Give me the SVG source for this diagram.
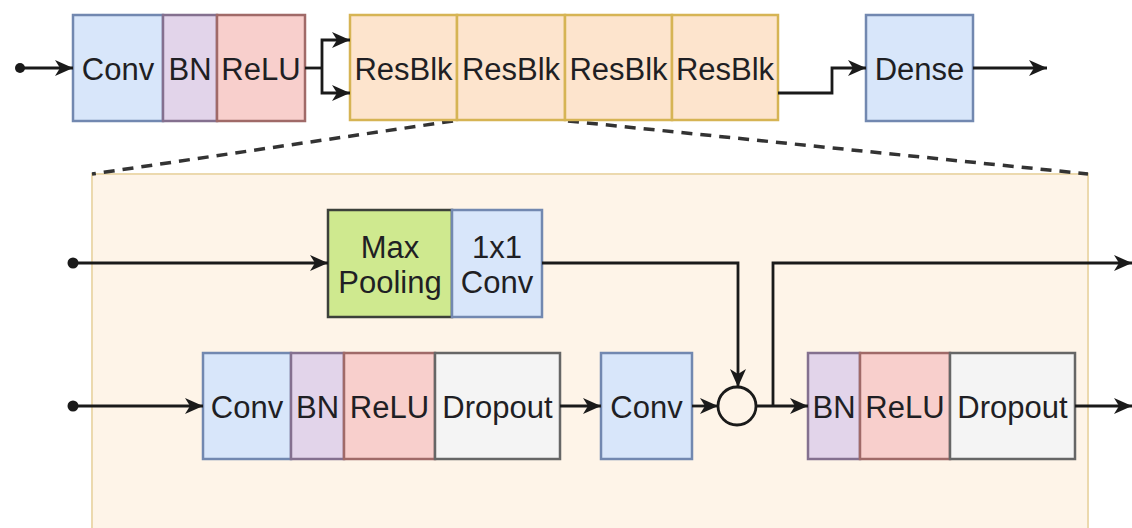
<svg xmlns="http://www.w3.org/2000/svg" width="1132" height="528" viewBox="0 0 1132 528">
  <style>
    text { font-family: "Liberation Sans", Arial, Helvetica, sans-serif; font-size: 31px; fill: #1f1f24; text-anchor: middle; }
    .blue { fill: #d8e6fa; stroke: #7288b0; stroke-width: 2.5; }
    .purple { fill: #e2d4ea; stroke: #84708f; stroke-width: 2.5; }
    .red { fill: #f8cfcc; stroke: #a06a68; stroke-width: 2.5; }
    .grey { fill: #f4f4f4; stroke: #666666; stroke-width: 2.5; }
    .orange { fill: #fde4cd; stroke: #d6b454; stroke-width: 2.5; }
    .green { fill: #cfe98f; stroke: #3c403a; stroke-width: 2.5; }
    .wire { fill: none; stroke: #1a1a1a; stroke-width: 2.8; }
    .arrow { fill: none; stroke: #1a1a1a; stroke-width: 2.8; marker-end: url(#head); }
    .zoom { fill: none; stroke: #333; stroke-width: 3.5; stroke-dasharray: 11 8; }
  </style>
  <defs>
    <marker id="head" markerUnits="userSpaceOnUse" markerWidth="19" markerHeight="16" refX="18" refY="8" orient="auto">
      <path d="M0,0 L18,8 L0,16 L5,8 Z" fill="#1a1a1a"/>
    </marker>
  </defs>

  <rect width="1132" height="528" fill="#ffffff"/>

  <!-- expanded residual block panel -->
  <g id="resblk-detail">
    <rect x="92" y="174" width="996" height="370" fill="#fef4e8" stroke="#ecd9ae" stroke-width="2"/>
  </g>

  <!-- zoom guides from the second residual block -->
  <g id="zoom-guides">
    <line class="zoom" x1="453" y1="121" x2="92" y2="174"/>
    <line class="zoom" x1="568" y1="121" x2="1088" y2="174"/>
  </g>

  <!-- top-level network -->
  <g id="stem">
    <rect class="blue" x="73" y="15" width="90" height="106"/>
    <text x="118" y="80">Conv</text>
    <rect class="purple" x="163" y="15" width="54" height="106"/>
    <text x="190" y="80">BN</text>
    <rect class="red" x="217" y="15" width="88" height="106"/>
    <text x="261" y="80">ReLU</text>
  </g>

  <g id="resblocks">
    <rect class="orange" x="350" y="15" width="107" height="105"/>
    <text x="403.5" y="80">ResBlk</text>
    <rect class="orange" x="457" y="15" width="108" height="105"/>
    <text x="511" y="80">ResBlk</text>
    <rect class="orange" x="565" y="15" width="107" height="105"/>
    <text x="618.5" y="80">ResBlk</text>
    <rect class="orange" x="672" y="15" width="106" height="105"/>
    <text x="725" y="80">ResBlk</text>
  </g>

  <g id="dense">
    <rect class="blue" x="866" y="15" width="107" height="106"/>
    <text x="919.5" y="80">Dense</text>
  </g>

  <!-- inside the residual block -->
  <g id="shortcut">
    <rect class="green" x="328" y="210" width="124" height="107"/>
    <text x="390" y="258">Max</text>
    <text x="390" y="293">Pooling</text>
    <rect class="blue" x="452" y="210" width="90" height="107"/>
    <text x="497" y="258">1x1</text>
    <text x="497" y="293">Conv</text>
  </g>

  <g id="main-path">
    <rect class="blue" x="203" y="353" width="88" height="106"/>
    <text x="247" y="418">Conv</text>
    <rect class="purple" x="291" y="353" width="53" height="106"/>
    <text x="317.5" y="418">BN</text>
    <rect class="red" x="344" y="353" width="91" height="106"/>
    <text x="389.5" y="418">ReLU</text>
    <rect class="grey" x="435" y="353" width="125" height="106"/>
    <text x="497.5" y="418">Dropout</text>
  </g>

  <g id="second-conv">
    <rect class="blue" x="601" y="353" width="91" height="106"/>
    <text x="646.5" y="418">Conv</text>
  </g>

  <g id="sum">
    <circle cx="737" cy="406" r="19" fill="#fef4e8" stroke="#1a1a1a" stroke-width="2.8"/>
  </g>

  <g id="post-path">
    <rect class="purple" x="808" y="353" width="52" height="106"/>
    <text x="834" y="418">BN</text>
    <rect class="red" x="860" y="353" width="90" height="106"/>
    <text x="905" y="418">ReLU</text>
    <rect class="grey" x="950" y="353" width="125" height="106"/>
    <text x="1012.5" y="418">Dropout</text>
  </g>

  <!-- connectors -->
  <g id="connectors">
    <circle cx="20" cy="68" r="5" fill="#1a1a1a"/>
    <path class="arrow" d="M20,68 H73"/>
    <path class="wire" d="M305,68 H322"/>
    <path class="arrow" d="M322,68 V40 H350"/>
    <path class="arrow" d="M322,68 V93 H350"/>
    <path class="arrow" d="M778,93 H832 V68 H866"/>
    <path class="arrow" d="M973,68 H1047"/>

    <circle cx="73" cy="263" r="5.5" fill="#1a1a1a"/>
    <path class="arrow" d="M73,263 H328"/>
    <path class="arrow" d="M542,263 H738 V387"/>
    <circle cx="73" cy="406" r="5.5" fill="#1a1a1a"/>
    <path class="arrow" d="M73,406 H203"/>
    <path class="arrow" d="M560,406 H601"/>
    <path class="arrow" d="M692,406 H718"/>
    <path class="arrow" d="M756,406 H808"/>
    <path class="arrow" d="M773,406 V263 H1132"/>
    <path class="arrow" d="M1075,406 H1132"/>
  </g>
</svg>
